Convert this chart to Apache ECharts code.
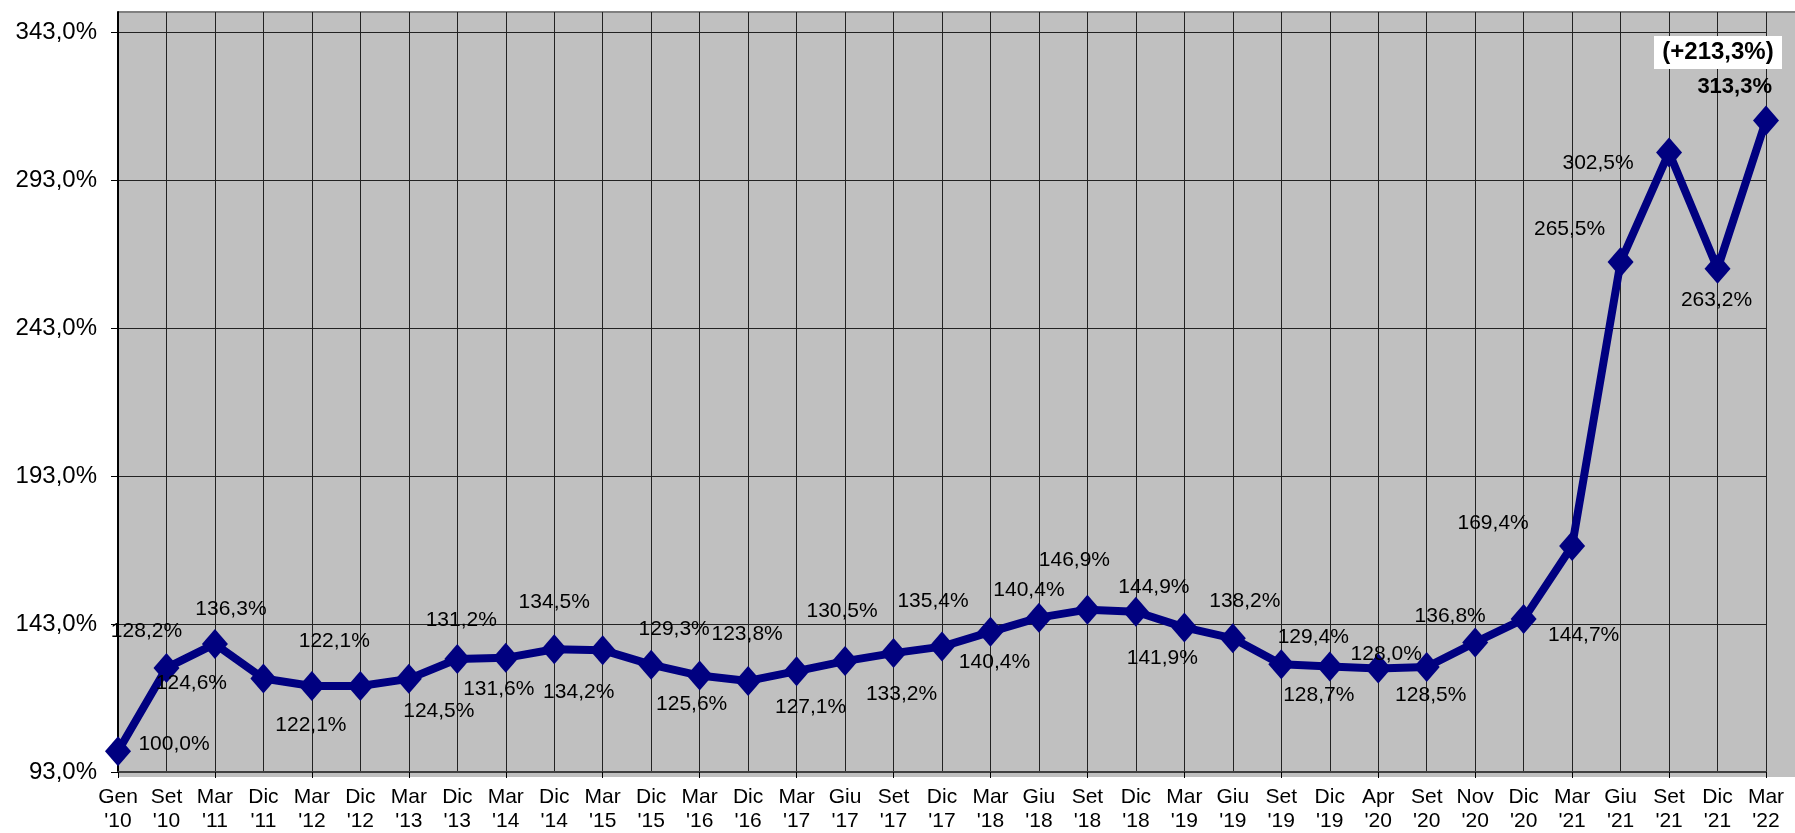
<!DOCTYPE html>
<html>
<head>
<meta charset="utf-8">
<script src="https://cdn.jsdelivr.net/npm/echarts@6/dist/echarts.min.js"></script>
<style>
  html, body { margin: 0; padding: 0; background: #fff; }
  #chart { width: 1795px; height: 833px; }
</style>
</head>
<body>
<div id="chart"></div>
<script>
// categorie (mese / anno)
const categories = [
  "Gen\n'10", "Set\n'10", "Mar\n'11", "Dic\n'11", "Mar\n'12", "Dic\n'12", "Mar\n'13", "Dic\n'13",
  "Mar\n'14", "Dic\n'14", "Mar\n'15", "Dic\n'15", "Mar\n'16", "Dic\n'16", "Mar\n'17", "Giu\n'17",
  "Set\n'17", "Dic\n'17", "Mar\n'18", "Giu\n'18", "Set\n'18", "Dic\n'18", "Mar\n'19", "Giu\n'19",
  "Set\n'19", "Dic\n'19", "Apr\n'20", "Set\n'20", "Nov\n'20", "Dic\n'20", "Mar\n'21", "Giu\n'21",
  "Set\n'21", "Dic\n'21", "Mar\n'22"
]
// posizione dei punti
const values = [
  100.0, 128.2, 136.3, 124.6, 122.1, 122.1, 124.5, 131.2,
  131.6, 134.5, 134.2, 129.3, 125.6, 123.8, 127.1, 130.5,
  133.2, 135.4, 140.4, 145.2, 147.9, 147.2, 141.9, 138.2,
  129.4, 128.7, 128.0, 128.5, 136.8, 144.7, 169.4, 265.5,
  302.5, 263.2, 313.3
]
// valori scritti nelle etichette
const labelValues = [
  100.0, 128.2, 136.3, 124.6, 122.1, 122.1, 124.5, 131.2,
  131.6, 134.5, 134.2, 129.3, 125.6, 123.8, 127.1, 130.5,
  133.2, 135.4, 140.4, 140.4, 146.9, 144.9, 141.9, 138.2,
  129.4, 128.7, 128.0, 128.5, 136.8, 144.7, 169.4, 265.5,
  302.5, 263.2, 313.3
]
const yTicks = [93, 143, 193, 243, 293, 343]
const changeNote = '(+213,3%)'

// spostamento delle etichette rispetto al punto
const labelOffsets = [
  [56, -7], [-20, -37], [16, -35], [-72, 5], [-1, 39], [-26, -45], [30, 32], [4, -39],
  [-7, 31], [0, -47], [-24, 42], [23, -35], [-8, 29], [-1, -47], [14, 36], [-3, -50],
  [8, 41], [-9, -45], [4, 30], [-10, -27], [-13, -49], [18, -25], [-22, 31], [12, -37],
  [32, -27], [-11, 29], [8, -14], [4, 28], [-25, -26], [60, 16], [-79, -23], [-51, -33],
  [-71, 11], [-1, 32], [-48, -50]
]

const FONT = 'Liberation Sans, Arial, sans-serif'
const G = { left: 118, top: 12, right: 29, bottom: 56 }
const fmt = v => v.toFixed(1).replace('.', ',') + '%'

const myChart = echarts.init(document.getElementById('chart'))
const last = values.length - 1

const option = {
  animation: false,
  textStyle: { fontFamily: FONT },
  graphic: [
    {
      type: 'rect',
      z: -10,
      silent: true,
      shape: { x: G.left, y: G.top, width: 1795 - G.left, height: 833 - G.bottom - G.top },
      style: { fill: '#C0C0C0' }
    },
    {
      type: 'line',
      z: -9,
      silent: true,
      shape: { x1: G.left, y1: G.top, x2: 1795, y2: G.top },
      style: { stroke: '#808080', lineWidth: 2 }
    }
  ],
  grid: {
    left: G.left,
    top: G.top,
    right: G.right,
    bottom: G.bottom,
    containLabel: false
  },
  xAxis: {
    type: 'category',
    boundaryGap: false,
    data: categories,
    axisLine: { show: true, lineStyle: { color: '#404040', width: 2 } },
    axisTick: { show: true, interval: 1, length: 6, lineStyle: { color: '#000' } },
    axisLabel: {
      interval: 0,
      margin: 13,
      fontSize: 21,
      lineHeight: 24,
      color: '#000',
      fontFamily: FONT
    },
    splitLine: { show: true, interval: 0, lineStyle: { color: '#222', width: 1 } }
  },
  yAxis: {
    type: 'value',
    min: 93,
    max: 350,
    axisLine: { show: true, lineStyle: { color: '#000', width: 2 } },
    axisTick: { show: true, length: 7, customValues: yTicks, lineStyle: { color: '#000' } },
    axisLabel: {
      customValues: yTicks,
      margin: 21,
      fontSize: 24,
      color: '#000',
      fontFamily: FONT,
      formatter: v => fmt(v)
    },
    splitLine: { show: true, customValues: yTicks, lineStyle: { color: '#222', width: 1 } }
  },
  series: [
    {
      type: 'line',
      symbol: 'diamond',
      symbolSize: [26, 30],
      itemStyle: { color: '#000080' },
      lineStyle: { color: '#000080', width: 8 },
      label: {
        show: true,
        position: 'inside',
        fontSize: 21,
        color: '#000',
        fontFamily: FONT,
        formatter: p => fmt(labelValues[p.dataIndex])
      },
      data: values.map((v, i) => {
        const item = { value: v, label: { position: 'inside', offset: labelOffsets[i] } }
        if (i === last) {
          item.label.formatter = p => '{box|' + changeNote + '}\n{b|' + fmt(labelValues[p.dataIndex]) + '}'
          item.label.rich = {
            box: {
              backgroundColor: '#fff',
              width: 128,
              height: 33,
              lineHeight: 33,
              align: 'center',
              fontSize: 24,
              fontWeight: 'bold',
              color: '#000',
              fontFamily: FONT
            },
            b: {
              width: 118,
              lineHeight: 36,
              align: 'right',
              padding: [0, 10, 0, 0],
              fontSize: 22,
              fontWeight: 'bold',
              color: '#000',
              fontFamily: FONT
            }
          }
        }
        return item
      })
    }
  ]
}
myChart.setOption(option)
</script>
</body>
</html>
